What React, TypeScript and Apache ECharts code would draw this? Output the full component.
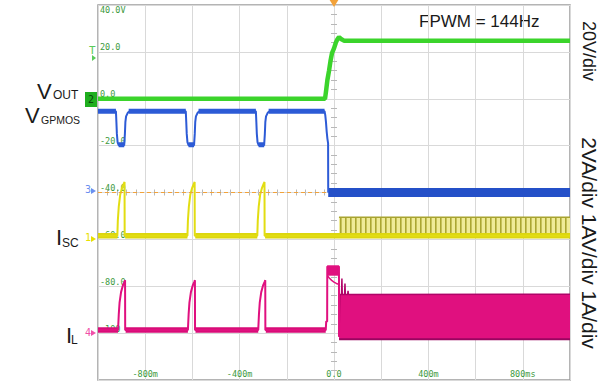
import React, { useEffect, useRef } from "react";
import * as echarts from "echarts";

// ---- axis ticks / labels ----
const timeTickValues = [-800, -400, 0, 400, 800];
const timeTickLabels = ["-800m", "-400m", "0.0", "400m", "800ms"];
const levelValues = [20, 0, -20, -40, -60, -80, -100];
const levelLabels = ["20.0", "0.0", "-20.0", "-40.0", "-60.0", "-80.0", "-100"];
const topLevelValue = 40;
const topLevelLabel = "40.0V";
const triggerLevel = -40;

// ---- traces (x: ms, y: screen units, 20 per division) ----
const voutTrace: [number, number][] = [
  [-1000, 0], [-38, 0], [-34, 3], [-28, 8], [-21, 12], [-15, 16], [-8.5, 19.5], [0, 21.5],
  [7, 23.7], [14, 25.3], [21, 26.3], [30, 25.5], [42, 24.8], [1000, 24.8],
];

const vgpmosTrace: [number, number][] = [
  [-1000, -5.3],
  [-924, -5.3], [-922, -10], [-920, -15], [-917, -18.5], [-912.5, -19.8], [-889, -19.8], [-886, -15], [-884, -10], [-881, -7.5], [-874, -6], [-866, -5.3],
  [-628, -5.3], [-626, -10], [-624, -15], [-621, -18.5], [-616.5, -19.8], [-593, -19.8], [-590, -15], [-588, -10], [-585, -7.5], [-578, -6], [-570, -5.3],
  [-331, -5.3], [-329, -10], [-327, -15], [-324, -18.5], [-319.5, -19.8], [-296, -19.8], [-293, -15], [-291, -10], [-288, -7.5], [-281, -6], [-273, -5.3],
  [-40, -5.3], [-37, -7], [-34, -10], [-31, -14], [-28, -17], [-25, -19], [-24.5, -40],
];
// flat (noisy, thick) stretches of the blue trace
const vgpmosLevels: any[] = [
  [-1000, -5.3], [-924, -5.3], "-", [-912.5, -19.6], [-889, -19.6], "-",
  [-870, -5.3], [-628, -5.3], "-", [-616.5, -19.6], [-593, -19.6], "-",
  [-574, -5.3], [-331, -5.3], "-", [-319.5, -19.6], [-296, -19.6], "-",
  [-277, -5.3], [-40, -5.3],
];
const vgpmosBand: [number, number][] = [[-24.5, -40], [1000, -40]];

const iscTrace: [number, number][] = [
  [-1000, -58.4],
  [-918, -58.4], [-916, -52], [-912, -46], [-906, -41], [-898, -38], [-890, -36], [-887.5, -35.5], [-887, -58.4],
  [-621, -58.4], [-619, -52], [-615, -46], [-609, -41], [-601, -38], [-593, -36], [-590.5, -35.5], [-590, -58.4],
  [-325, -58.4], [-323, -52], [-319, -46], [-313, -41], [-305, -38], [-297, -36], [-294.5, -35.5], [-294, -58.4],
  [1000, -58.4],
];
const iscLevels: any[] = [
  [-1000, -58.4], [-918, -58.4], "-", [-885, -58.4], [-621, -58.4], "-",
  [-588, -58.4], [-325, -58.4], "-", [-292, -58.4], [1000, -58.4],
];
const iscSwitchEnvelope: [number, number][] = [[21, -50.6], [1000, -50.6]];
const iscSwitchBase = -58.4;

const ilTrace: [number, number][] = [
  [-1000, -98.7],
  [-915, -98.7], [-912, -92], [-908.6, -87], [-902.3, -82.5], [-894, -79.5], [-887.5, -78], [-885.3, -77.4], [-884.8, -98.7],
  [-619, -98.7], [-616, -92], [-612.6, -87], [-606.3, -82.5], [-598, -79.5], [-591.5, -78], [-589.3, -77.4], [-588.8, -98.7],
  [-321, -98.7], [-318, -92], [-314.6, -87], [-308.3, -82.5], [-300, -79.5], [-293.5, -78], [-291.3, -77.4], [-290.8, -98.7],
  [-35, -98.7], [-33, -95], [-29, -95], [-28.5, -71.6], [21, -71.6], [21.5, -101.5],
];
const ilLevels: any[] = [
  [-1000, -98.7], [-915, -98.7], "-", [-883, -98.7], [-619, -98.7], "-",
  [-587, -98.7], [-321, -98.7], "-", [-289, -98.7], [-35, -98.7],
];
const ilBlockTop: [number, number][] = [[-28.5, -71.6], [21, -71.6]];
const ilBlockBase = -75.5;
const ilBlockLower: [number, number][] = [[-28, -75.5], [-20, -76.5], [-10, -77.5], [0, -78.2], [10, -78.8], [20, -79.2]];
const ilSwitchEnvelope: [number, number][] = [
  [21.5, -101.5], [23, -92], [25, -83.5], [32, -83.5], [33.5, -76.7], [35, -83.5], [45, -83.5], [46.5, -78.8],
  [48, -83.5], [58, -83.5], [59.5, -82], [61, -83.5], [1000, -83.4],
];
const ilSwitchBase = -102.6;
const ilSwitchBottom: [number, number][] = [[21.5, -102.6], [1000, -102.6]];

const GREEN = "#3bd42b";
const BLUE = "#2d5bd6";
const YELLOW = "#e2dd12";
const PINK = "#e0107f";
const ORANGE = "#f2a23a";
const LABEL_GREEN = "#3d9a3d";
const MONO = '"DejaVu Sans Mono", monospace';
const SANS = '"Liberation Sans", Arial, sans-serif';

function stripePattern() {
  const c = document.createElement("canvas");
  c.width = 5;
  c.height = 8;
  const ctx = c.getContext("2d")!;
  ctx.fillStyle = "#efeb98";
  ctx.fillRect(0, 0, 5, 8);
  ctx.fillStyle = "#aaa632";
  ctx.fillRect(0, 0, 1.6, 8);
  return { image: c.toDataURL(), repeat: "repeat", imageWidth: 5, imageHeight: 8 } as any;
}

export default function App() {
  const ref = useRef<HTMLDivElement>(null);
  useEffect(() => {
    if (!ref.current) return;
    const chart = echarts.init(ref.current, null, { renderer: "svg" });
    const line = (name: string, data: any[], color: string, width: number, extra: any = {}) => ({
      name,
      type: "line",
      data,
      showSymbol: false,
      symbol: "none",
      connectNulls: false,
      lineStyle: { color, width },
      itemStyle: { color },
      ...extra,
    });
    const centerX = (inside: boolean) => ({
      type: "value", min: -1000, max: 1000, interval: 200, position: "bottom", offset: -187.5,
      axisLine: { show: false }, axisTick: { show: false, inside },
      minorTick: { show: true, splitNumber: 5, length: 3, lineStyle: { color: "#b8b8b8", width: 1 } },
      axisLabel: { show: false }, splitLine: { show: false },
    });
    const centerY = (inside: boolean) => ({
      type: "value", min: -120, max: 40, interval: 20, position: "left", offset: -236,
      axisLine: { show: false }, axisTick: { show: false, inside },
      minorTick: { show: true, splitNumber: 5, length: 3, lineStyle: { color: "#b8b8b8", width: 1 } },
      axisLabel: { show: false }, splitLine: { show: false },
    });
    const option: any = {
      animation: false,
      backgroundColor: "#ffffff",
      textStyle: { fontFamily: SANS },
      grid: {
        left: 98, right: 40, top: 5, bottom: 3, show: true,
        borderColor: "#9c9c9c", borderWidth: 1.5, backgroundColor: "#ffffff",
        outerBoundsMode: "none",
      },
      xAxis: [
        {
          type: "value", min: -1000, max: 1000, interval: 200,
          axisLine: { show: false }, axisTick: { show: false },
          splitLine: { show: true, lineStyle: { color: "#d9d9d9", width: 1 } },
          axisLabel: {
            inside: true, margin: 2, color: LABEL_GREEN, fontFamily: MONO, fontSize: 8.5,
            formatter: (v: number) => {
              const i = timeTickValues.indexOf(v);
              return i >= 0 ? timeTickLabels[i] : "";
            },
          },
        },
        centerX(true),
        centerX(false),
      ],
      yAxis: [
        {
          type: "value", min: -120, max: 40, interval: 20, position: "left",
          axisLine: { show: false }, axisTick: { show: false },
          splitLine: { show: true, lineStyle: { color: "#d9d9d9", width: 1 } },
          axisLabel: {
            inside: true, margin: 2, color: LABEL_GREEN, fontFamily: MONO, fontSize: 8.5,
            verticalAlign: "bottom", align: "left",
            formatter: (v: number) => {
              const i = levelValues.indexOf(v);
              return i >= 0 ? levelLabels[i] : "";
            },
          },
        },
        {
          type: "value", min: -120, max: 40, interval: 20, position: "left",
          axisLine: { show: false }, axisTick: { show: false }, splitLine: { show: false },
          axisLabel: {
            inside: true, margin: 2, color: LABEL_GREEN, fontFamily: MONO, fontSize: 8.5,
            verticalAlign: "top", align: "left", showMaxLabel: true,
            formatter: (v: number) => (v === topLevelValue ? topLevelLabel : ""),
          },
        },
        centerY(true),
        centerY(false),
      ],
      series: [
        line("IL switching", ilSwitchEnvelope, "#b00468", 1.5, {
          areaStyle: { color: PINK, opacity: 1, origin: ilSwitchBase }, z: 2,
        }),
        line("IL bottom", ilSwitchBottom, "#9a0560", 2, { z: 2 }),
        line("IL block", ilBlockTop, PINK, 2, { areaStyle: { color: PINK, opacity: 1, origin: ilBlockBase }, z: 2 }),
        line("IL block edge", ilBlockLower, PINK, 1.5, { z: 2 }),
        line("IL levels", ilLevels, "#d80c78", 5.5, { z: 3 }),
        line("IL", ilTrace, PINK, 2, { z: 3 }),
        line("ISC switching", iscSwitchEnvelope, "#a8a430", 1.5, {
          areaStyle: { color: stripePattern(), opacity: 1, origin: iscSwitchBase }, z: 3,
        }),
        line("ISC levels", iscLevels, "#dcd60e", 5.5, { z: 4 }),
        line("ISC", iscTrace, YELLOW, 2, { z: 4 }),
        line("VGPMOS band", vgpmosBand, "#2450c8", 9, { z: 5 }),
        line("VGPMOS levels", vgpmosLevels, BLUE, 5, { z: 5 }),
        line("VGPMOS", vgpmosTrace, BLUE, 2, { z: 5 }),
        line("VOUT", voutTrace, GREEN, 4.5, {
          z: 6,
          markLine: {
            silent: true, symbol: "none", label: { show: false },
            lineStyle: { color: ORANGE, type: [4, 3], width: 1 },
            data: [{ yAxis: triggerLevel }],
          },
          markPoint: {
            silent: true,
            data: [{ coord: [0, topLevelValue], symbol: "triangle", symbolRotate: 180, symbolSize: [10, 8], symbolOffset: [0, -2], itemStyle: { color: ORANGE }, label: { show: false } }],
          },
        }),
      ],
      graphic: [
        // channel markers on left
        { type: "rect", shape: { x: 85, y: 92, width: 12, height: 15 }, style: { fill: "#1fae1f" } },
        { type: "text", x: 88, y: 99.5, style: { text: "2", fill: "#0a4a0a", fontSize: 10, fontFamily: MONO, verticalAlign: "middle" } },
        { type: "text", x: 89, y: 50, style: { text: "T", fill: "#5acb5a", fontSize: 11, fontFamily: MONO, verticalAlign: "middle" } },
        { type: "polygon", shape: { points: [[92, 55], [92, 61], [96, 58]] }, style: { fill: "#5acb5a" } },
        { type: "text", x: 85, y: 189, style: { text: "3", fill: "#6a8ff0", fontSize: 10, fontFamily: MONO, verticalAlign: "middle" } },
        { type: "polygon", shape: { points: [[91, 188], [91, 194], [96, 191]] }, style: { fill: "#6a8ff0" } },
        { type: "text", x: 85, y: 237, style: { text: "1", fill: "#e8e000", fontSize: 10, fontFamily: MONO, verticalAlign: "middle" } },
        { type: "polygon", shape: { points: [[91, 236], [91, 242], [96, 239]] }, style: { fill: "#e8e000" } },
        { type: "text", x: 85, y: 332, style: { text: "4", fill: "#f050a8", fontSize: 10, fontFamily: MONO, verticalAlign: "middle" } },
        { type: "polygon", shape: { points: [[91, 330], [91, 336], [96, 333]] }, style: { fill: "#f050a8" } },
        // channel names
        { type: "text", x: 37, y: 91, style: { text: "V", fill: "#1a1a1a", fontSize: 22, fontFamily: SANS, verticalAlign: "middle" } },
        { type: "text", x: 53, y: 95, style: { text: "OUT", fill: "#1a1a1a", fontSize: 12, fontFamily: SANS, verticalAlign: "middle" } },
        { type: "text", x: 25, y: 115, style: { text: "V", fill: "#1a1a1a", fontSize: 22, fontFamily: SANS, verticalAlign: "middle" } },
        { type: "text", x: 41, y: 119.5, style: { text: "GPMOS", fill: "#1a1a1a", fontSize: 10.5, fontFamily: SANS, verticalAlign: "middle" } },
        { type: "text", x: 56, y: 237.5, style: { text: "I", fill: "#1a1a1a", fontSize: 22, fontFamily: SANS, verticalAlign: "middle" } },
        { type: "text", x: 62, y: 243, style: { text: "SC", fill: "#1a1a1a", fontSize: 12, fontFamily: SANS, verticalAlign: "middle" } },
        { type: "text", x: 66, y: 335, style: { text: "I", fill: "#1a1a1a", fontSize: 22, fontFamily: SANS, verticalAlign: "middle" } },
        { type: "text", x: 71, y: 340, style: { text: "L", fill: "#1a1a1a", fontSize: 12, fontFamily: SANS, verticalAlign: "middle" } },
        // annotations
        { type: "text", x: 419, y: 21.5, style: { text: "FPWM = 144Hz", fill: "#1a1a1a", fontSize: 17, fontFamily: SANS, verticalAlign: "middle" } },
        { type: "text", x: 589, y: 51, rotation: -Math.PI / 2, style: { text: "20V/div", fill: "#1a1a1a", fontSize: 18, fontFamily: SANS, align: "center", verticalAlign: "middle" } },
        { type: "text", x: 589, y: 243, rotation: -Math.PI / 2, style: { text: "2VA/div 1AV/div 1A/div", fill: "#1a1a1a", fontSize: 21, fontFamily: SANS, align: "center", verticalAlign: "middle" } },
      ],
    };
    chart.setOption(option);
    return () => chart.dispose();
  }, []);
  return (
    <div
      ref={ref}
      style={{ position: "fixed", left: 0, top: 0, width: 610, height: 383, background: "#fff" }}
    />
  );
}
